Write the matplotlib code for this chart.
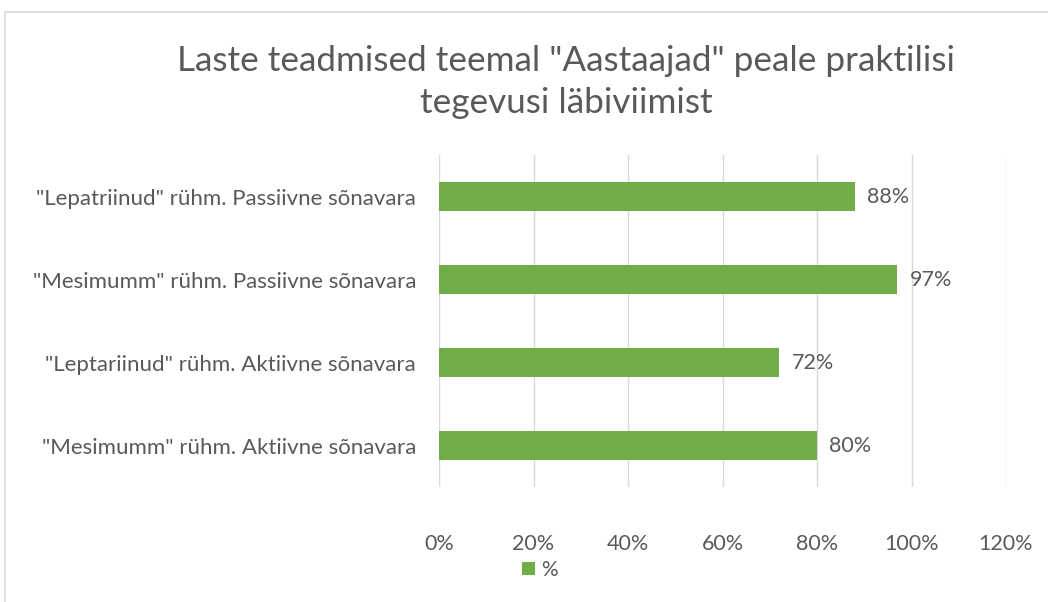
import matplotlib
matplotlib.use("Agg")
import matplotlib.pyplot as plt
from matplotlib.patches import Rectangle

# categories from bottom to top (as in the source chart)
categories = [
    '"Mesimumm" rühm. Aktiivne sõnavara',
    '"Leptariinud" rühm. Aktiivne sõnavara',
    '"Mesimumm" rühm. Passiivne sõnavara',
    '"Lepatriinud" rühm. Passiivne sõnavara',
]
values = [0.80, 0.72, 0.97, 0.88]
x_ticks = [0, 0.2, 0.4, 0.6, 0.8, 1.0, 1.2]
series_name = "%"
title = 'Laste teadmised teemal "Aastaajad" peale praktilisi\ntegevusi läbiviimist'

green = "#70AD47"
text_col = "#595959"
grid_col = "#D9D9D9"

plt.rcParams["font.family"] = ["Lato", "DejaVu Sans"]

fig = plt.figure(figsize=(10.48, 6.02), dpi=100)
ax = fig.add_axes([439 / 1048, 1 - 487 / 602, (1006 - 439) / 1048, (487 - 155) / 602])

# chart frame (only top and left visible in the crop)
fig.patches.append(Rectangle((5 / 1048, -0.1), 1.2, 1 - 12 / 602 + 0.1,
                             transform=fig.transFigure, fill=False,
                             edgecolor=grid_col, linewidth=1.2))

pos = list(range(len(categories)))
bars = ax.barh(pos, values, height=0.35, color=green, zorder=3, label=series_name)

ax.set_xlim(0, 1.2)
ax.set_ylim(-0.5, len(categories) - 0.5)
ax.set_xticks(x_ticks)
ax.set_xticklabels([f"{int(round(t * 100))}%" for t in x_ticks])
ax.set_yticks(pos)
ax.set_yticklabels(categories)
ax.tick_params(axis="both", length=0, colors=text_col, labelsize=15.5)
ax.tick_params(axis="y", labelsize=16)
ax.tick_params(axis="x", pad=34)
ax.tick_params(axis="y", pad=16.5)
ax.grid(axis="x", color=grid_col, linewidth=1, zorder=0)
for s in ax.spines.values():
    s.set_visible(False)

for b, v in zip(bars, values):
    ax.annotate(f"{int(round(v * 100))}%", (b.get_width(), b.get_y() + b.get_height() / 2),
                xytext=(9, 0), textcoords="offset points", va="center", ha="left",
                fontsize=15.5, color=text_col)

fig.text(566 / 1048, 1 - 82 / 602, title, ha="center", va="center", fontsize=25.3,
         color=text_col, linespacing=1.35)

fig.legend(loc="center", bbox_to_anchor=(540 / 1048, 1 - 570 / 602), frameon=False,
           fontsize=15, labelcolor=text_col, handlelength=0.6, handleheight=0.6,
           handletextpad=0.3)

fig.savefig("out.png", dpi=100, facecolor="white")
